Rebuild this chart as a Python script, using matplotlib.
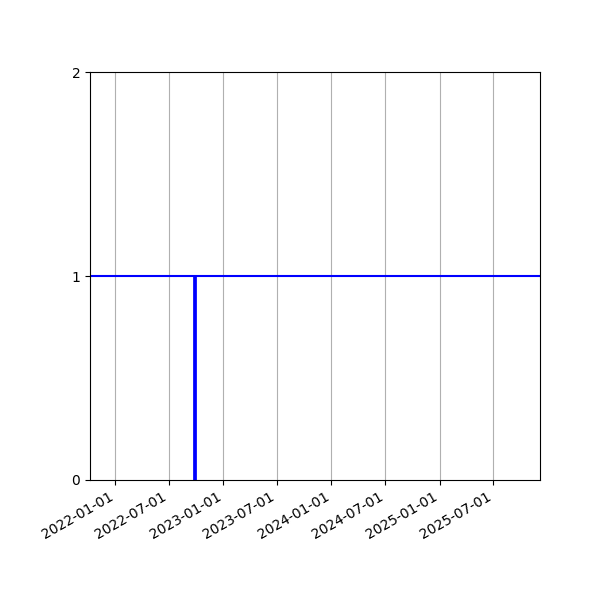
import numpy as np
import matplotlib
matplotlib.use("Agg")
import matplotlib.pyplot as plt
import matplotlib.dates as mdates
import datetime as dt

# data
x_range = ["2021-10-07", "2025-12-06"]
level = 1
event_dates = ["2022-09-26"]
event_values = [1]
y_ticks = [0, 1, 2]

xr = [dt.datetime.strptime(d, "%Y-%m-%d") for d in x_range]
ev = [dt.datetime.strptime(d, "%Y-%m-%d") for d in event_dates]

fig, ax = plt.subplots(figsize=(6, 6), dpi=100)

ax.plot(xr, [level, level], color="blue", lw=1.5)
ax.vlines(ev, 0, event_values, color="blue", lw=2.7)

ax.set_xlim(xr[0], xr[1])
ax.set_ylim(0, 2)
ax.set_yticks(y_ticks)
ax.xaxis.set_major_locator(mdates.MonthLocator(bymonth=[1, 7]))
ax.xaxis.set_major_formatter(mdates.DateFormatter("%Y-%m-%d"))
ax.grid(axis="x")

fig.autofmt_xdate()
fig.subplots_adjust(left=0.15, right=0.9, top=0.88, bottom=0.2)
fig.savefig("out.png")
